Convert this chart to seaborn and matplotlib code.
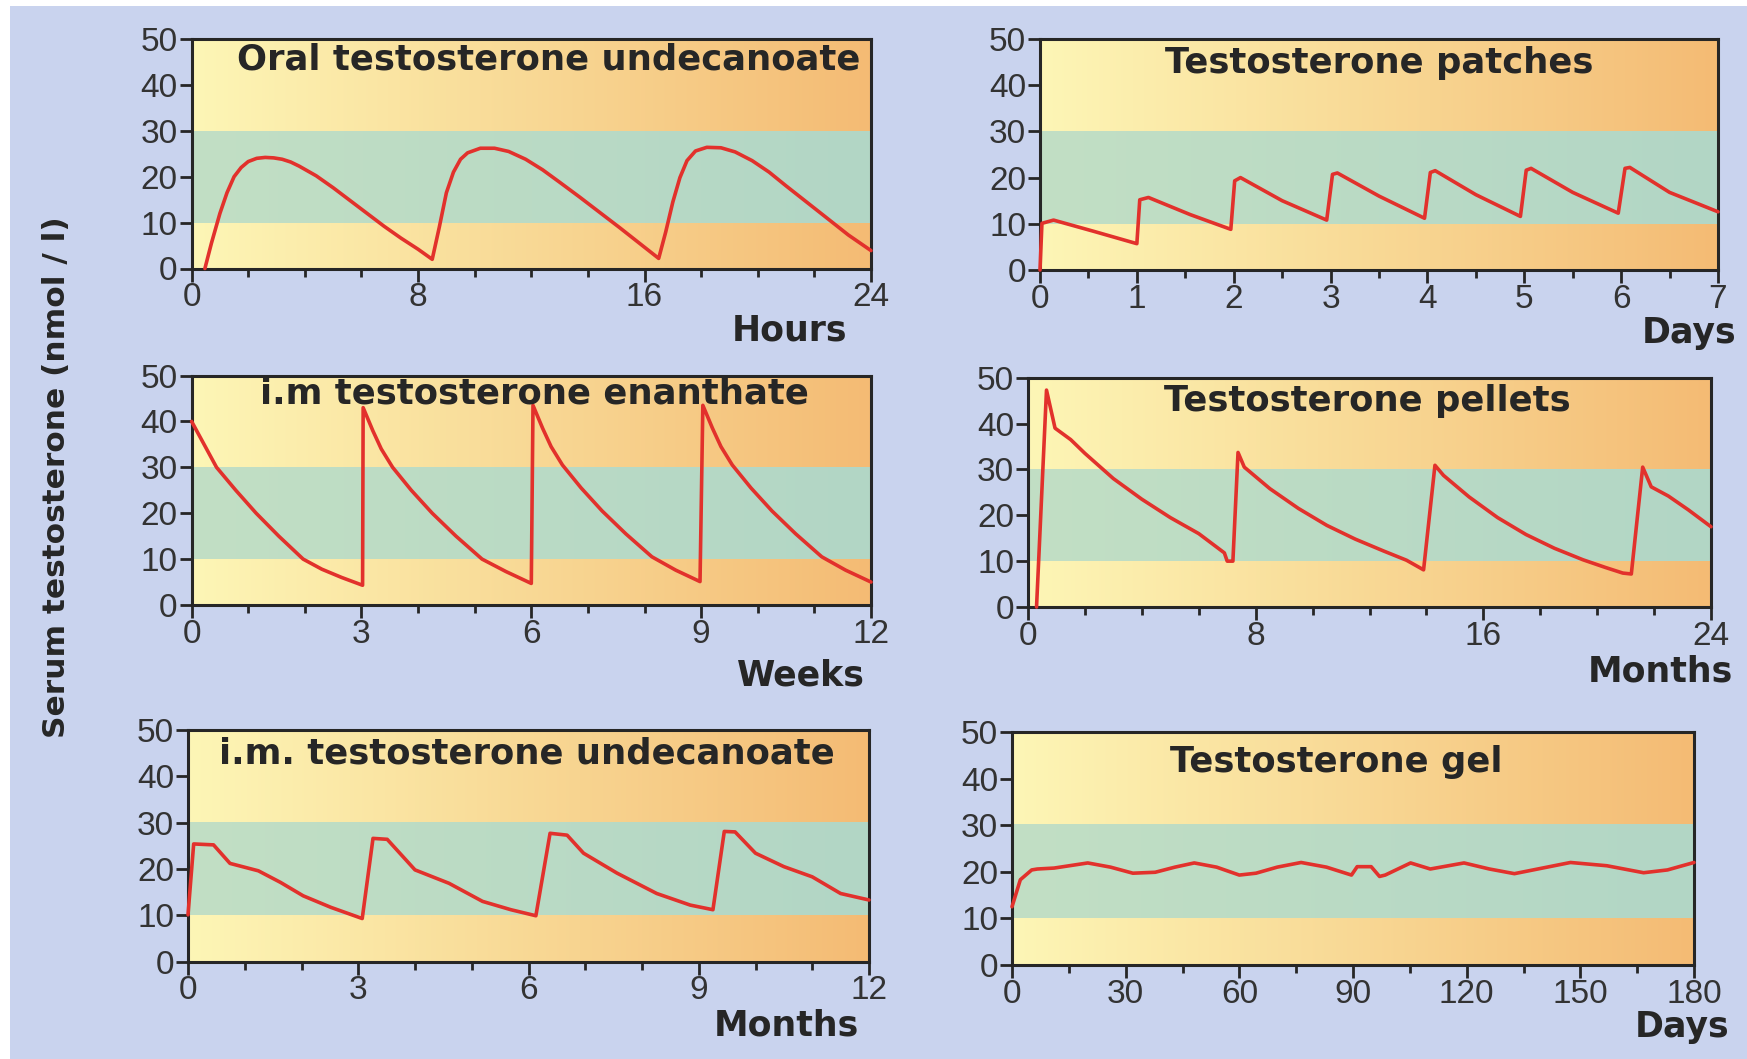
import numpy as np
import pandas as pd
import matplotlib
matplotlib.use("Agg")
import matplotlib.pyplot as plt
from matplotlib.colors import to_rgb
from matplotlib.ticker import MultipleLocator
import seaborn as sns

sns.set_theme(style="white")
plt.rcParams["font.family"] = ["Liberation Sans", "DejaVu Sans"]

# ---- data -----------------------------------------------------------------
oral_tu_hours = [0.47, 0.7, 1.0, 1.25, 1.5, 1.75, 2.0, 2.3, 2.6, 2.9, 3.2, 3.5, 3.8, 4.4, 5.0, 5.6, 6.2, 6.8,
                 7.4, 8.0, 8.5,
                 8.75, 9.0, 9.25, 9.5, 9.75, 10.2, 10.7, 11.2, 11.8, 12.4, 13.0, 13.7, 14.4, 15.1, 15.8, 16.5,
                 16.75, 17.0, 17.25, 17.5, 17.8, 18.2, 18.7, 19.2, 19.8, 20.4, 21.0, 21.7, 22.4, 23.2, 24.0]
oral_tu_level = [0.0, 5.5, 12.0, 16.5, 20.0, 22.0, 23.3, 24.0, 24.2, 24.1, 23.8, 23.2, 22.3, 20.2, 17.6, 14.8,
                 12.0, 9.2, 6.6, 4.2, 2.0,
                 9.0, 16.5, 21.0, 23.8, 25.2, 26.2, 26.2, 25.5, 23.8, 21.5, 18.8, 15.6, 12.3, 9.0, 5.6, 2.2,
                 8.0, 14.5, 19.8, 23.5, 25.6, 26.4, 26.3, 25.4, 23.5, 21.0, 18.0, 14.6, 11.2, 7.3, 3.9]

patch_days = [0.0, 0.02, 0.14, 0.55, 1.0, 1.03, 1.12, 1.55, 1.97, 2.01, 2.07, 2.5, 2.96, 3.02, 3.07, 3.5, 3.97,
              4.03, 4.08, 4.5, 4.96, 5.02, 5.07, 5.5, 5.97, 6.04, 6.09, 6.5, 7.0]
patch_level = [0.0, 10.1, 10.8, 8.4, 5.7, 15.2, 15.7, 12.0, 8.8, 19.3, 20.0, 15.0, 10.8, 20.7, 21.0, 16.0, 11.2,
               21.1, 21.5, 16.3, 11.6, 21.6, 22.0, 16.8, 12.3, 22.0, 22.2, 16.8, 12.6]

te_weeks = [0.0, 0.22, 0.44, 0.78, 1.14, 1.54, 1.97, 2.3, 2.65, 3.02,
            3.03, 3.2, 3.35, 3.55, 3.88, 4.25, 4.67, 5.13, 5.55, 6.0,
            6.03, 6.2, 6.35, 6.55, 6.88, 7.25, 7.67, 8.13, 8.55, 8.98,
            9.03, 9.2, 9.35, 9.55, 9.88, 10.25, 10.67, 11.13, 11.55, 12.0]
te_level = [40.0, 35.0, 30.0, 25.0, 20.0, 15.0, 10.0, 7.8, 6.0, 4.3,
            43.0, 38.0, 34.0, 30.0, 25.0, 20.0, 15.0, 10.0, 7.3, 4.7,
            43.5, 38.5, 34.5, 30.5, 25.5, 20.5, 15.5, 10.5, 7.6, 5.1,
            43.5, 38.5, 34.5, 30.5, 25.5, 20.5, 15.5, 10.5, 7.6, 5.0]

pellet_months = [0.3, 0.65, 0.95, 1.5, 2.0, 3.0, 4.0, 5.0, 6.0, 6.6, 6.9, 7.0, 7.2,
                 7.38, 7.6, 8.5, 9.5, 10.5, 11.5, 12.5, 13.3, 13.9,
                 14.3, 14.6, 15.5, 16.5, 17.5, 18.5, 19.5, 20.3, 20.9, 21.2,
                 21.6, 21.9, 22.5, 23.2, 24.0]
pellet_level = [0.0, 47.3, 39.0, 36.5, 33.5, 28.0, 23.5, 19.5, 16.0, 13.2, 11.8, 10.0, 10.0,
                33.7, 30.5, 25.8, 21.5, 17.8, 14.8, 12.2, 10.2, 8.1,
                30.9, 28.7, 24.0, 19.5, 15.8, 12.8, 10.3, 8.6, 7.4, 7.2,
                30.5, 26.2, 24.2, 21.2, 17.5]

imtu_months = [0.0, 0.1, 0.45, 0.74, 1.24, 1.63, 2.03, 2.52, 3.07, 3.26, 3.51, 4.0, 4.6, 5.19, 5.69,
               6.13, 6.38, 6.68, 6.97, 7.56, 8.26, 8.85, 9.25, 9.45, 9.64, 10.0, 10.5, 11.0, 11.5, 12.0]
imtu_level = [10.1, 25.4, 25.2, 21.2, 19.6, 17.1, 14.2, 11.7, 9.3, 26.6, 26.4, 19.8, 16.9, 13.0, 11.2,
              9.9, 27.7, 27.3, 23.4, 19.1, 14.7, 12.2, 11.2, 28.1, 28.0, 23.4, 20.5, 18.3, 14.7, 13.3]

gel_days = [0.0, 2.2, 5.2, 6.7, 11.1, 20.0, 26.0, 31.9, 37.8, 43.0, 48.1, 54.0, 60.0, 64.4, 70.0, 76.3,
            83.0, 89.6, 91.1, 94.8, 97.0, 98.5, 105.2, 110.4, 119.3, 126.0, 132.6, 140.0, 147.4, 157.0,
            166.7, 173.0, 180.0]
gel_level = [12.5, 18.3, 20.4, 20.6, 20.8, 21.9, 21.0, 19.7, 19.9, 21.0, 21.9, 21.0, 19.3, 19.7, 21.0, 22.0,
             21.0, 19.3, 21.1, 21.1, 19.0, 19.3, 21.9, 20.6, 21.9, 20.6, 19.6, 20.8, 22.0, 21.3,
             19.8, 20.4, 22.0]

titles = ["Oral testosterone undecanoate", "Testosterone patches",
          "i.m testosterone enanthate", "Testosterone pellets",
          "i.m. testosterone undecanoate", "Testosterone gel"]
units = ["Hours", "Days", "Weeks", "Months", "Months", "Days"]
x_max = [24, 7, 12, 24, 12, 180]
x_major = [8, 1, 3, 8, 3, 30]
x_minor = [2, 0.5, 1, 2, 1, 15]
series_x = [oral_tu_hours, patch_days, te_weeks, pellet_months, imtu_months, gel_days]
series_y = [oral_tu_level, patch_level, te_level, pellet_level, imtu_level, gel_level]

# ---- layout (pixels: left, right, top, bottom) ------------------------------
W, H = 1747, 1059
boxes = [(191.6, 871, 39, 268.5), (1040, 1718, 39, 270),
         (191.6, 871, 375.5, 605), (1028, 1711, 377.7, 607),
         (188, 869, 730, 961.6), (1012, 1694, 732, 965)]
title_pos = [(549, 59), (1379, 63.5), (534, 393), (1367, 401), (527, 753), (1336, 762)]
unit_pos = [(847, 331), (1736, 333), (865, 675), (1733, 672), (859, 1026), (1729, 1027)]

bg = "#c9d3ee"
fig = plt.figure(figsize=(W / 100, H / 100), dpi=100, facecolor=bg)
# white margin strips along the top and left edge
fig.patches.append(plt.Rectangle((0, 1 - 6 / H), 1, 6 / H, transform=fig.transFigure,
                                 facecolor="white", edgecolor="none", zorder=0))
fig.patches.append(plt.Rectangle((0, 0), 10 / W, 1, transform=fig.transFigure,
                                 facecolor="white", edgecolor="none", zorder=0))


def hgrad(c0, c1, n=256):
    a, b = np.array(to_rgb(c0)), np.array(to_rgb(c1))
    t = np.linspace(0, 1, n)[:, None]
    return (a + (b - a) * t)[None, :, :]


warm = hgrad("#fdf6b6", "#f4bb74")
cool = hgrad("#c2dfc4", "#b2d6c6")
ink = "#262626"
bold_font = ["DejaVu Sans"]

for i in range(6):
    l, r, t, b = boxes[i]
    ax = fig.add_axes([l / W, 1 - b / H, (r - l) / W, (b - t) / H])
    xm = x_max[i]
    ax.imshow(warm, extent=[0, xm, 0, 10], aspect="auto", zorder=0, interpolation="bilinear")
    ax.imshow(warm, extent=[0, xm, 30, 50], aspect="auto", zorder=0, interpolation="bilinear")
    ax.imshow(cool, extent=[0, xm, 10, 30], aspect="auto", zorder=0, interpolation="bilinear")

    df = pd.DataFrame({"x": series_x[i], "y": series_y[i]})
    sns.lineplot(data=df, x="x", y="y", ax=ax, sort=False, estimator=None,
                 color="#e2312c", lw=2.6, zorder=3)
    ax.lines[-1].set_clip_on(False)
    ax.lines[-1].set_solid_joinstyle("round")

    ax.set_xlim(0, xm)
    ax.set_ylim(0, 50)
    ax.set_xlabel("")
    ax.set_ylabel("")
    ax.xaxis.set_major_locator(MultipleLocator(x_major[i]))
    ax.xaxis.set_minor_locator(MultipleLocator(x_minor[i]))
    ax.yaxis.set_major_locator(MultipleLocator(10))
    ax.tick_params(axis="both", which="major", direction="out", length=9, width=2,
                   color=ink, labelsize=24, labelcolor="#333333", pad=1,
                   bottom=True, left=True)
    ax.tick_params(axis="x", which="minor", direction="out", length=6, width=2,
                   color=ink, bottom=True)
    for s in ax.spines.values():
        s.set_color(ink)
        s.set_linewidth(2.2)
        s.set_visible(True)

    tx, ty = title_pos[i]
    fig.text(tx / W, 1 - ty / H, titles[i], ha="center", va="center",
             fontsize=25.5, fontweight="bold", color=ink, family=bold_font)
    ux, uy = unit_pos[i]
    fig.text(ux / W, 1 - uy / H, units[i], ha="right", va="center",
             fontsize=25, fontweight="bold", color=ink, family=bold_font)

fig.text(57 / W, 1 - 477 / H, "Serum testosterone (nmol / l)", rotation=90,
         ha="center", va="center", fontsize=22.5, fontweight="bold", color=ink,
         family=bold_font)

fig.savefig("out.png", dpi=100, facecolor=bg)
